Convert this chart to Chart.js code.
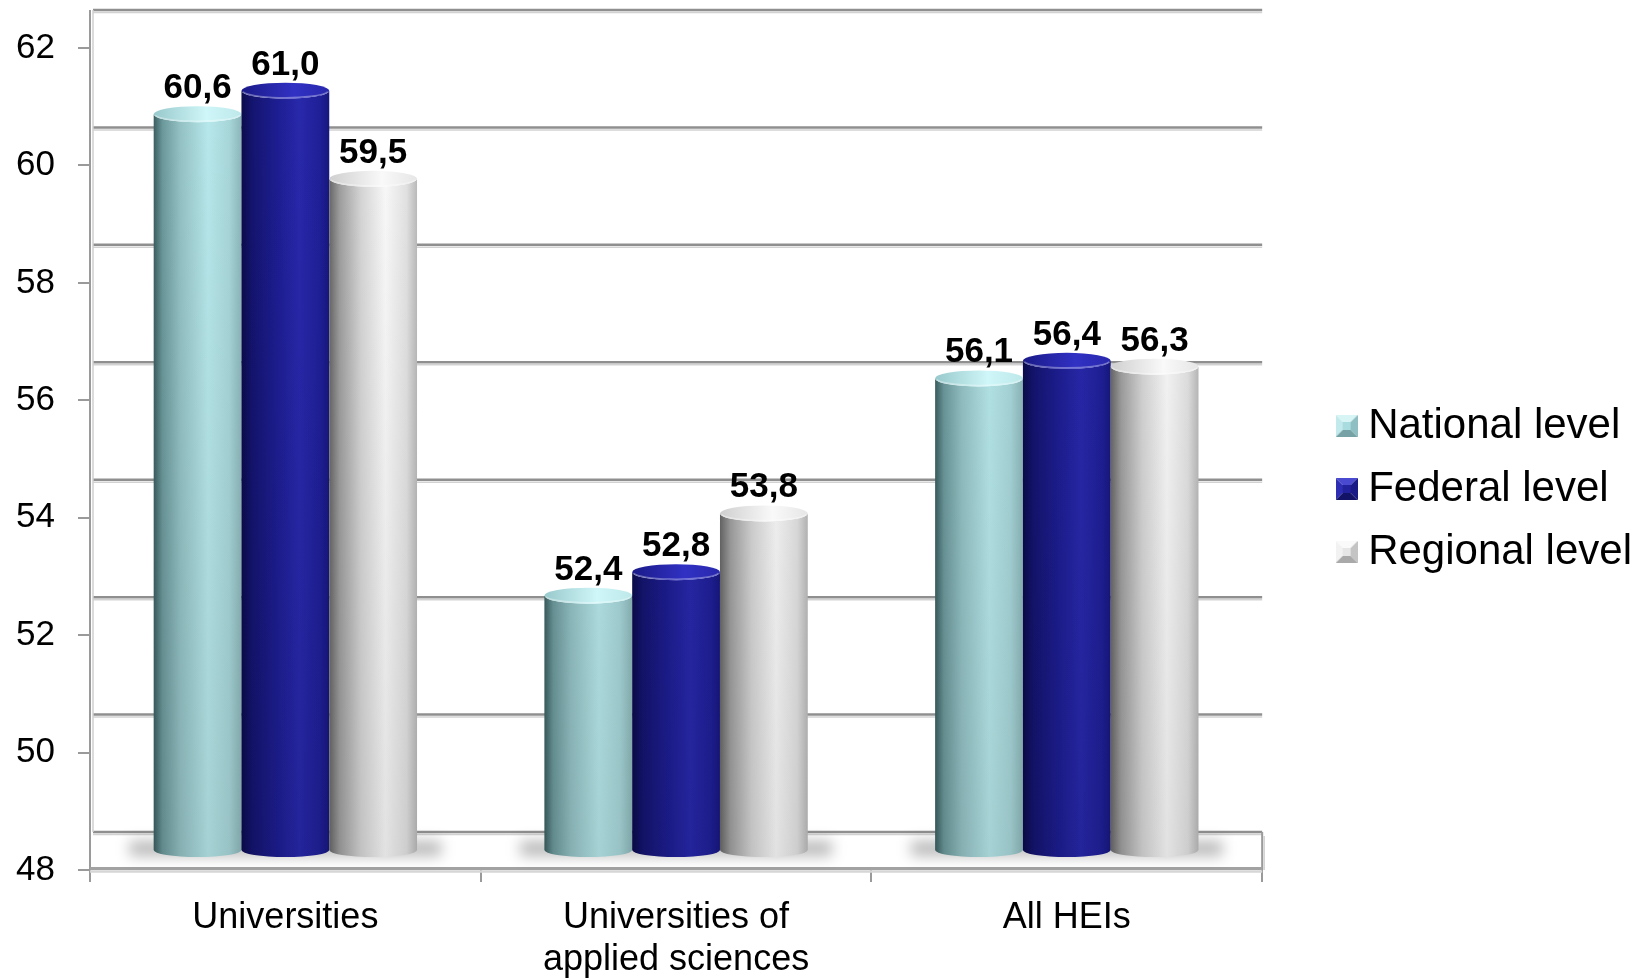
<!DOCTYPE html>
<html>
<head>
<meta charset="utf-8">
<title>Levels by type of institution</title>
<script src="https://cdn.jsdelivr.net/npm/chart.js@4/dist/chart.umd.min.js"></script>
<style>
  html, body { margin: 0; padding: 0; background: #fff; }
  #wrap { width: 1648px; height: 978px; }
</style>
</head>
<body>
<div id="wrap"><canvas id="levelsChart"></canvas></div>
<script>
var categories = [['Universities'], ['Universities of', 'applied sciences'], ['All HEIs']];
var seriesNames = ['National level', 'Federal level', 'Regional level'];
var nationalLevel = [60.6, 52.4, 56.1];
var federalLevel = [61.0, 52.8, 56.4];
var regionalLevel = [59.5, 53.8, 56.3];
var yTicks = [48, 50, 52, 54, 56, 58, 60, 62];

var FONT = "'Liberation Sans', Arial, sans-serif";

// shading for the cylinder sides and caps, one entry per series
var barStyles = [
  {
    side: [[0, '#3b5f61'], [0.1, '#6c999c'], [0.3, '#94c2c5'], [0.62, '#b8e9ec'], [0.86, '#a9d8db'], [1, '#8db8bb']],
    cap: [[0, '#98c9cc'], [0.6, '#cff6f8'], [1, '#bde8ea']],
    bevel: { face: '#a9dcdf', top: '#d8f5f6', left: '#c2e9eb', right: '#8fbfc2', bottom: '#76a2a5' },
    fill: '#aadcdf', edge: '#7fa9ac'
  },
  {
    side: [[0, '#0b0b4c'], [0.12, '#141470'], [0.4, '#1d1d92'], [0.66, '#2828ac'], [0.9, '#1f1f98'], [1, '#17177f']],
    cap: [[0, '#1a1a88'], [0.6, '#3131c4'], [1, '#2828ad']],
    bevel: { face: '#22229c', top: '#4a4ad0', left: '#2e2eb4', right: '#1a1a86', bottom: '#121266' },
    fill: '#2020a0', edge: '#12126a'
  },
  {
    side: [[0, '#686868'], [0.12, '#a0a0a0'], [0.36, '#d7d7d7'], [0.64, '#fbfbfb'], [0.88, '#e4e4e4'], [1, '#bcbcbc']],
    cap: [[0, '#cfcfcf'], [0.6, '#f9f9f9'], [1, '#e6e6e6']],
    bevel: { face: '#e6e6e6', top: '#fafafa', left: '#f2f2f2', right: '#c4c4c4', bottom: '#a9a9a9' },
    fill: '#e2e2e2', edge: '#a8a8a8'
  }
];

function fmt(v) {
  return v.toFixed(1).replace('.', ',');
}

function line(ctx, x1, y1, x2, y2, color, w) {
  ctx.beginPath();
  ctx.moveTo(x1, y1);
  ctx.lineTo(x2, y2);
  ctx.strokeStyle = color;
  ctx.lineWidth = w;
  ctx.stroke();
}

// small bevelled square used as the legend marker
function bevelIcon(b) {
  var s = 22, k = 7;
  var c = document.createElement('canvas');
  c.width = s; c.height = s;
  var g = c.getContext('2d');
  function tri(pts, color) {
    g.beginPath();
    g.moveTo(pts[0], pts[1]);
    for (var i = 2; i < pts.length; i += 2) g.lineTo(pts[i], pts[i + 1]);
    g.closePath();
    g.fillStyle = color;
    g.fill();
  }
  tri([0, 0, s, 0, s - k, k, k, k], b.top);
  tri([0, 0, k, k, k, s - k, 0, s], b.left);
  tri([s, 0, s, s, s - k, s - k, s - k, k], b.right);
  tri([0, s, k, s - k, s - k, s - k, s, s], b.bottom);
  g.fillStyle = b.face;
  g.fillRect(k, k, s - 2 * k, s - 2 * k);
  return c;
}

// draws the back wall, floor and the cylinders in place of flat bars
var cylinderPlugin = {
  id: 'cylinders',
  beforeDatasetsDraw: function(chart) {
    var ctx = chart.ctx, area = chart.chartArea, y = chart.scales.y;
    var depth = 38, lift = 16, capRy = 8, footRy = 7;
    var metas = chart.data.datasets.map(function(d, i) { return chart.getDatasetMeta(i); });
    var wallTop = y.getPixelForValue(yTicks[yTicks.length - 1]) - depth;
    var floor = y.getPixelForValue(yTicks[0]);

    ctx.save();

    // back wall grid lines
    yTicks.forEach(function(v) {
      var py = y.getPixelForValue(v) - depth;
      line(ctx, area.left + 3, py + 2.5, area.right, py + 2.5, 'rgba(205,205,205,0.9)', 1.5);
      line(ctx, area.left + 3, py, area.right, py, '#8f8f8f', 2.5);
    });
    // wall edges
    line(ctx, area.left, wallTop, area.left, floor, '#9a9a9a', 2);
    line(ctx, area.left + 3, wallTop, area.left + 3, floor - depth, '#cfcfcf', 1.5);
    line(ctx, area.right, floor - depth, area.right, floor, '#9a9a9a', 2);
    line(ctx, area.right + 2, floor - depth + 4, area.right + 2, floor, '#d0d0d0', 1.5);
    // front edge of the floor
    line(ctx, area.left, floor + 1.5, area.right, floor + 1.5, '#d6d6d6', 2.5);
    line(ctx, area.left, floor - 1.5, area.right, floor - 1.5, '#a2a2a2', 3);

    // soft shadows on the floor
    categories.forEach(function(c, j) {
      var first = metas[0].data[j], last = metas[metas.length - 1].data[j];
      var l = first.x - first.width / 2, r = last.x + last.width / 2;
      ctx.save();
      ctx.filter = 'blur(7px)';
      ctx.fillStyle = 'rgba(0,0,0,0.28)';
      ctx.fillRect(l - 24, floor - 29, r - l + 48, 15);
      ctx.restore();
    });

    var shade = ctx.createLinearGradient(0, area.top, 0, floor);
    shade.addColorStop(0, 'rgba(0,0,0,0)');
    shade.addColorStop(1, 'rgba(0,0,0,0.1)');

    metas.forEach(function(meta, i) {
      var st = barStyles[i];
      meta.data.forEach(function(bar) {
        var half = bar.width / 2, l = bar.x - half, r = bar.x + half;
        var top = bar.y - lift, foot = floor - lift - 4;

        ctx.beginPath();
        ctx.moveTo(l, top);
        ctx.lineTo(l, foot);
        ctx.ellipse(bar.x, foot, half, footRy, 0, Math.PI, 0, true);
        ctx.lineTo(r, top);
        ctx.ellipse(bar.x, top, half, capRy, 0, 0, Math.PI, false);
        ctx.closePath();
        var g = ctx.createLinearGradient(l, 0, r, 0);
        st.side.forEach(function(s) { g.addColorStop(s[0], s[1]); });
        ctx.fillStyle = g;
        ctx.fill();
        ctx.fillStyle = shade;
        ctx.fill();

        // top cap
        ctx.beginPath();
        ctx.ellipse(bar.x, top, half, capRy, 0, 0, Math.PI * 2);
        var cg = ctx.createLinearGradient(l, 0, r, 0);
        st.cap.forEach(function(s) { cg.addColorStop(s[0], s[1]); });
        ctx.fillStyle = cg;
        ctx.fill();
        ctx.beginPath();
        ctx.ellipse(bar.x, top, half - 1, capRy - 1, 0, 0.15, Math.PI - 0.15);
        ctx.strokeStyle = 'rgba(255,255,255,0.35)';
        ctx.lineWidth = 1.5;
        ctx.stroke();
      });
    });

    // value labels
    ctx.fillStyle = '#000';
    ctx.font = 'bold 35px ' + FONT;
    ctx.textAlign = 'center';
    ctx.textBaseline = 'alphabetic';
    metas.forEach(function(meta, i) {
      var values = chart.data.datasets[i].data;
      meta.data.forEach(function(bar, j) {
        ctx.fillText(fmt(values[j]), bar.x, bar.y - lift - capRy - 8);
      });
    });

    ctx.restore();
    return false;
  }
};

// keeps a gap between the plot and the legend
var legendGap = {
  id: 'legendGap',
  afterLayout: function(chart) {
    var lg = chart.legend;
    var w = lg.width;
    lg.left = chart.chartArea.right + 63;
    lg.right = lg.left + w;
  }
};

var seriesValues = [nationalLevel, federalLevel, regionalLevel];

var datasets = seriesNames.map(function(name, i) {
  return {
    label: name,
    data: seriesValues[i],
    backgroundColor: barStyles[i].fill,
    borderColor: barStyles[i].edge,
    borderWidth: 1,
    pointStyle: bevelIcon(barStyles[i].bevel),
    barPercentage: 1,
    categoryPercentage: 0.674
  };
});

var ctx = document.getElementById('levelsChart');

var levelsChart = new Chart(ctx, {
  type: 'bar',
  data: {
    labels: categories,
    datasets: datasets
  },
  options: {
    responsive: true,
    maintainAspectRatio: false,
    animation: false,
    layout: { padding: { top: 0, left: 0, right: 69, bottom: 0 } },
    plugins: {
      title: { display: true, text: '', padding: 0, font: { size: 48, lineHeight: 1 } },
      tooltip: { enabled: false },
      legend: {
        position: 'right',
        labels: {
          color: '#000',
          font: { family: FONT, size: 42 },
          usePointStyle: true,
          pointStyleWidth: 1,
          boxWidth: 22,
          boxHeight: 22,
          padding: 21
        }
      }
    },
    scales: {
      x: {
        grid: { offset: true, drawOnChartArea: false, tickLength: 12, color: '#9a9a9a', lineWidth: 2 },
        border: { display: false },
        ticks: {
          color: '#000',
          font: { family: FONT, size: 36, lineHeight: 1.17 },
          padding: 15,
          maxRotation: 0,
          autoSkip: false
        },
        afterFit: function(s) { s.height = 108; }
      },
      y: {
        min: 48,
        max: 62,
        afterBuildTicks: function(s) {
          s.ticks = yTicks.map(function(v) { return { value: v }; });
        },
        grid: { drawOnChartArea: false, tickLength: 12, color: '#9a9a9a', lineWidth: 2 },
        border: { display: true, color: '#9a9a9a', width: 2 },
        ticks: { color: '#000', font: { family: FONT, size: 35 }, padding: 23 },
        afterFit: function(s) { s.width = 90; }
      }
    }
  },
  plugins: [cylinderPlugin, legendGap]
});
</script>
</body>
</html>
